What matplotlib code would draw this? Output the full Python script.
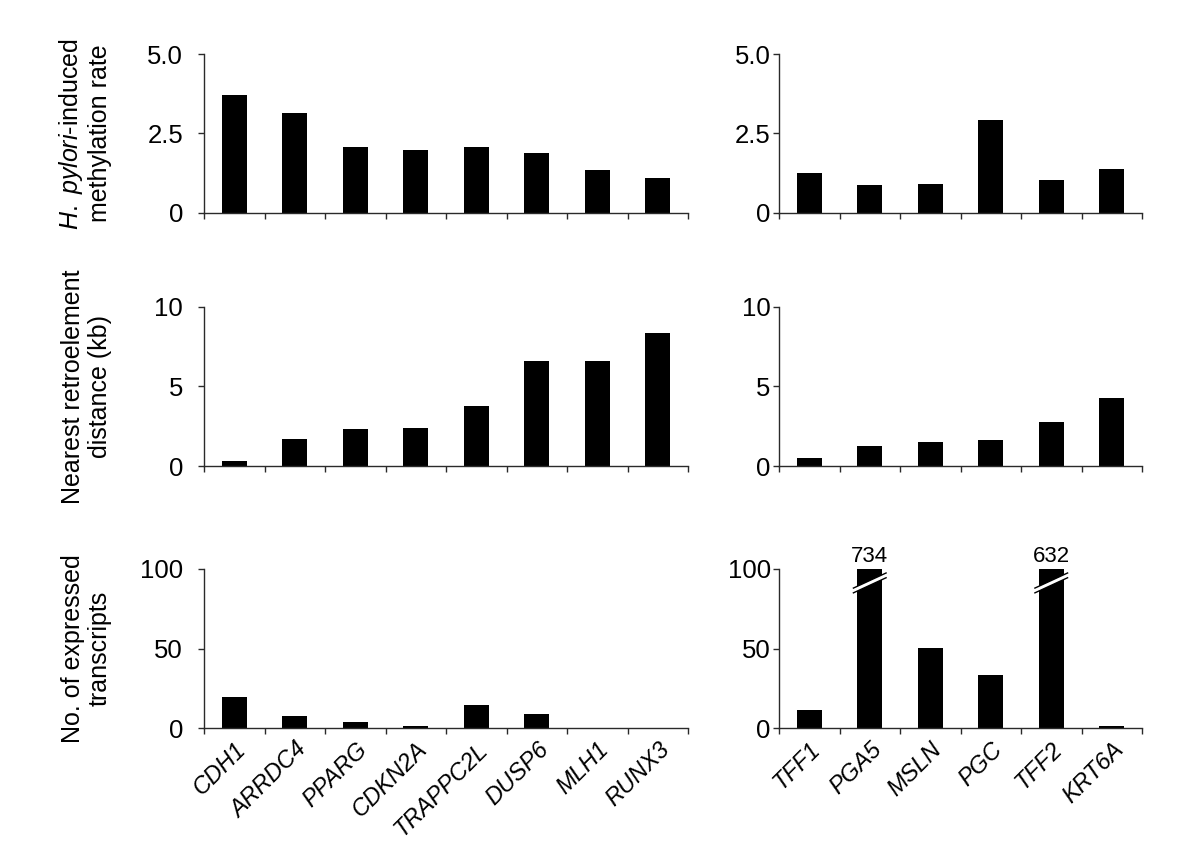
import matplotlib
matplotlib.use("Agg")
import matplotlib.pyplot as plt
from matplotlib.patches import Polygon

plt.rcParams['font.family'] = ['Liberation Sans', 'DejaVu Sans']
plt.rcParams['mathtext.fontset'] = 'custom'
plt.rcParams['mathtext.rm'] = 'Liberation Sans'
plt.rcParams['mathtext.it'] = 'Liberation Sans:italic'

# ---------------- data ----------------
genes_left = ["CDH1", "ARRDC4", "PPARG", "CDKN2A", "TRAPPC2L", "DUSP6", "MLH1", "RUNX3"]
genes_right = ["TFF1", "PGA5", "MSLN", "PGC", "TFF2", "KRT6A"]

meth_left = [3.70, 3.13, 2.07, 1.97, 2.09, 1.90, 1.36, 1.11]
meth_right = [1.27, 0.89, 0.92, 2.94, 1.04, 1.39]

dist_left = [0.32, 1.70, 2.34, 2.42, 3.80, 6.60, 6.60, 8.35]
dist_right = [0.50, 1.28, 1.50, 1.66, 2.77, 4.29]

trans_left = [19.6, 7.4, 3.6, 1.3, 14.6, 8.7, 0, 0]
trans_right = [11.4, 734, 50.4, 33.5, 632, 1.0]

ylabels = [r"$\mathit{H.\ pylori}$-induced" + "\nmethylation rate",
           "Nearest retroelement\ndistance (kb)",
           "No. of expressed\ntranscripts"]
yticks = [[0, 2.5, 5.0], [0, 5, 10], [0, 50, 100]]
yticklabels = [["0", "2.5", "5.0"], ["0", "5", "10"], ["0", "50", "100"]]
ymax = [5.0, 10, 100]

# ---------------- layout ----------------
W, H = 1200, 855
fig = plt.figure(figsize=(12, 8.55), dpi=100)

rows_px = [(54, 213), (307, 466), (569, 728)]
cols_px = [(204, 688), (779, 1142)]

data = [[meth_left, meth_right], [dist_left, dist_right], [trans_left, trans_right]]
genes = [genes_left, genes_right]
axis_color = "#2a2a2a"
bar_w = 0.41

for r in range(3):
    top, bot = rows_px[r]
    for c in range(2):
        l, rr = cols_px[c]
        ax = fig.add_axes([l / W, 1 - bot / H, (rr - l) / W, (bot - top) / H])
        vals = data[r][c]
        names = genes[c]
        n = len(names)
        xs = list(range(n))
        ax.bar(xs, vals, width=bar_w, color="black", zorder=2)
        ax.set_xlim(-0.5, n - 0.5)
        ax.set_ylim(0, ymax[r])
        for s in ["top", "right"]:
            ax.spines[s].set_visible(False)
        for s in ["left", "bottom"]:
            ax.spines[s].set_color(axis_color)
            ax.spines[s].set_linewidth(1.0)
        ax.set_yticks(yticks[r])
        ax.set_yticklabels(yticklabels[r])
        ax.tick_params(axis="y", direction="out", length=4, width=1, color=axis_color,
                       labelsize=18.5, pad=11 if c == 0 else 2)
        ax.set_xticks([i - 0.5 for i in range(n + 1)])
        ax.set_xticklabels([])
        ax.tick_params(axis="x", which="major", direction="out", length=4.5, width=1,
                       color=axis_color)
        ax.set_xticks(xs, minor=True)
        if r == 2:
            ax.set_xticklabels(names, minor=True, rotation=45, ha="right",
                               rotation_mode="anchor", fontsize=17, style="italic")
            ax.tick_params(axis="x", which="minor", length=0, pad=7)
        else:
            ax.set_xticklabels([], minor=True)
            ax.tick_params(axis="x", which="minor", length=0)
        if c == 0:
            ax.set_ylabel(ylabels[r], fontsize=18, linespacing=1.15)
            ax.yaxis.set_label_coords(-0.19, 0.5)
        # broken bars
        if r == 2:
            for i, v in enumerate(vals):
                if v > ymax[r]:
                    ax.text(i, ymax[r] + 1.5, str(v), ha="center", va="bottom",
                            fontsize=16, clip_on=False)
                    x0, x1 = i - 0.27, i + 0.27
                    y0, y1 = 85.0, 94.5
                    g = 3.0
                    poly = Polygon([(x0, y0), (x1, y1), (x1, y1 + g), (x0, y0 + g)],
                                   closed=True, facecolor="white", edgecolor="none",
                                   zorder=3, clip_on=False)
                    ax.add_patch(poly)
                    ax.plot([x0, x1], [y0, y1], color="black", lw=1.0, zorder=4,
                            clip_on=False)
                    ax.plot([x0, x1], [y0 + g, y1 + g], color="black", lw=1.0,
                            zorder=4, clip_on=False)

fig.savefig("out.png", dpi=100)
